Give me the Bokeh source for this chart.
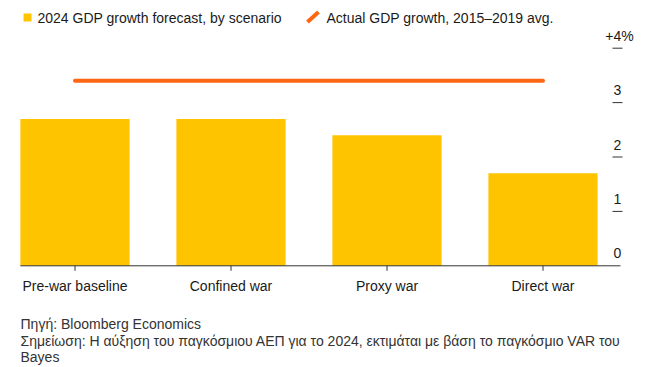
from bokeh.plotting import figure
from bokeh.models import Range1d, ColumnDataSource
from bokeh.embed import file_html
from bokeh.resources import INLINE
from bokeh.core.properties import value

# ---- data ----
scenarios = ["Pre-war baseline", "Confined war", "Proxy war", "Direct war"]
forecast_2024 = [2.7, 2.7, 2.4, 1.7]
actual_avg_2015_2019 = 3.4
y_ticks = [0, 1, 2, 3, 4]
y_tick_labels = ["0", "1", "2", "3", "+4%"]
legend_labels = ["2024 GDP growth forecast, by scenario", "Actual GDP growth, 2015\u20132019 avg."]
footer_lines = [
    "Πηγή: Bloomberg Economics",
    "Σημείωση: Η αύξηση του παγκόσμιου ΑΕΠ για το 2024, εκτιμάται με βάση το παγκόσμιο VAR του",
    "Bayes",
]

# ---- styling / layout ----
FONT = "Liberation Sans"
YELLOW = "#FFC400"
ORANGE = "#FF6614"
TEXT = "#1a1a1a"
NOTE = "#333333"
W, H = 649, 367
ORIGIN = 0                   # page px where the canvas starts
X0_PAGE, SX = 74.5, 156.0    # page px of first category centre, px per category
Y0_PAGE, SY = 265.3, 54.4    # page px of value 0, px per percentage point
LABEL_RAISE = 12.5           # px between value tick and centre of its label


def cx(px):  # page pixel -> data x
    return (px - X0_PAGE) / SX


def cy(py):  # page pixel -> data y
    return (Y0_PAGE - py) / SY


n = len(scenarios)
xs = list(range(n))
bar_w = 0.7

p = figure(width=W, height=H, output_backend="svg", toolbar_location=None,
           x_range=Range1d(cx(ORIGIN), cx(ORIGIN + W)), y_range=Range1d(cy(ORIGIN + H), cy(ORIGIN)),
           x_axis_location=None, y_axis_location=None, title_location=None,
           min_border_left=0, min_border_right=0, min_border_top=0, min_border_bottom=0)
p.outline_line_color = None
p.xgrid.grid_line_color = None
p.ygrid.grid_line_color = None
p.background_fill_color = "white"
p.border_fill_color = "white"

# bars
src = ColumnDataSource(dict(x=xs, top=forecast_2024))
p.vbar(x="x", top="top", width=bar_w, bottom=0, source=src,
       fill_color=YELLOW, line_color=None)

# 2015-2019 average line
p.line(x=[xs[0], xs[-1]], y=[actual_avg_2015_2019] * 2,
       line_color=ORANGE, line_width=4, line_cap="round")

# baseline
p.segment(x0=[xs[0] - bar_w / 2], x1=[cx(620)], y0=[0], y1=[0],
          line_color="#333333", line_width=1)

# category ticks and labels
p.segment(x0=xs, x1=xs, y0=[0] * n, y1=[-5 / SY] * n, line_color="#333333", line_width=1)
p.text(x=xs, y=[cy(285)] * n, text=scenarios, text_align="center", text_baseline="middle",
       text_font=value(FONT), text_font_size="14px", text_color=TEXT)

# right-side value ticks & labels
nt = len(y_ticks)
p.segment(x0=[cx(612)] * (nt - 1), x1=[cx(622)] * (nt - 1),
          y0=y_ticks[1:], y1=y_ticks[1:], line_color="#333333", line_width=1)
p.text(x=[cx(617)] * (nt - 1), y=[t + LABEL_RAISE / SY for t in y_ticks[:-1]],
       text=y_tick_labels[:-1], text_align="center", text_baseline="middle",
       text_font=value(FONT), text_font_size="14px", text_color=TEXT)
p.text(x=[cx(619)], y=[t + LABEL_RAISE / SY for t in y_ticks[-1:]],
       text=y_tick_labels[-1:], text_align="center", text_baseline="middle",
       text_font=value(FONT), text_font_size="14px", text_color=TEXT)

# legend
p.quad(left=[cx(23)], right=[cx(31)], top=[cy(13)], bottom=[cy(21)],
       fill_color=YELLOW, line_color=None)
p.segment(x0=[cx(307)], x1=[cx(318)], y0=[cy(21.5)], y1=[cy(11.5)],
          line_color=ORANGE, line_width=4)
p.text(x=[cx(37), cx(326)], y=[cy(17)] * 2, text=legend_labels,
       text_align="left", text_baseline="middle",
       text_font=value(FONT), text_font_size="14px", text_color=TEXT)

# footer
p.text(x=[cx(20)] * len(footer_lines), y=[cy(323), cy(340), cy(356)], text=footer_lines,
       text_align="left", text_baseline="middle",
       text_font=value(FONT), text_font_size="14px", text_color=NOTE)

open("out.html", "w").write(file_html(p, INLINE))
